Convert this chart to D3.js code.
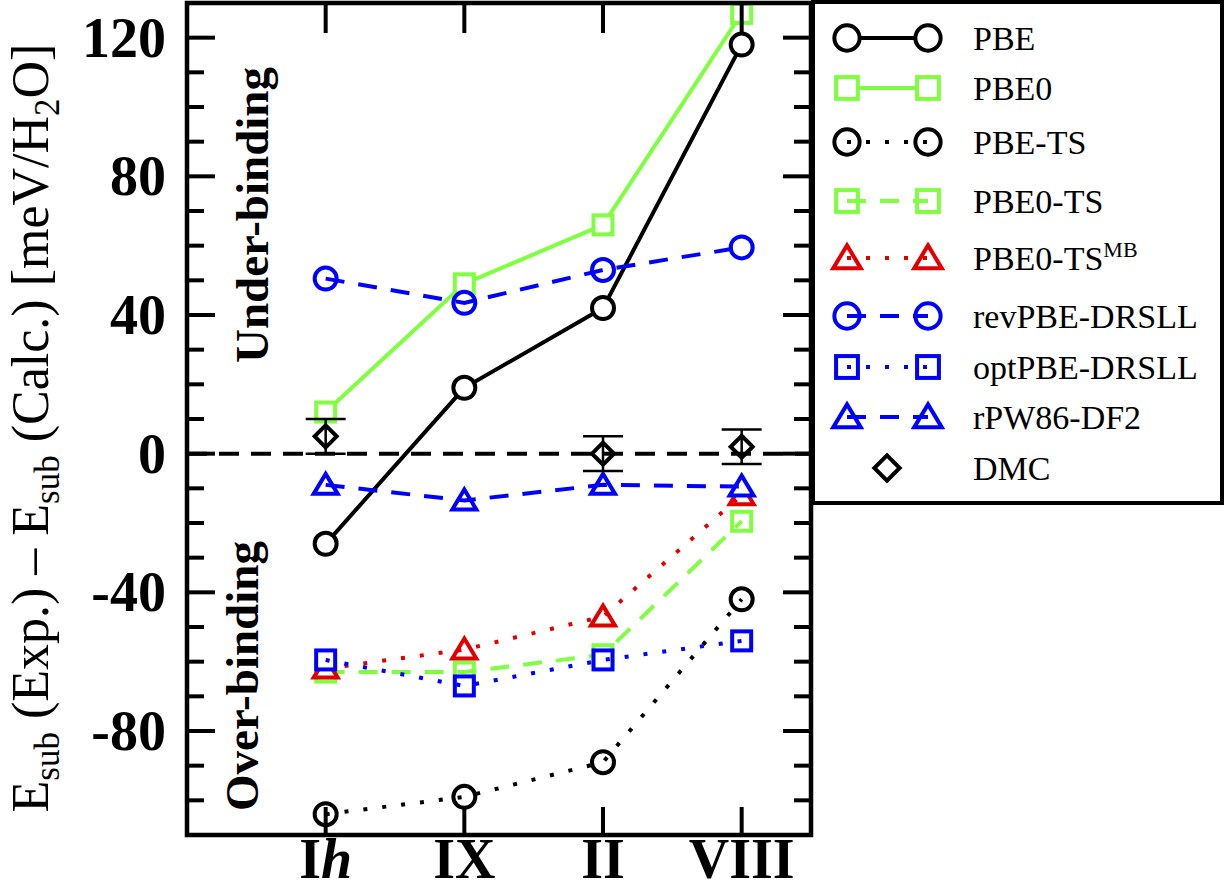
<!DOCTYPE html>
<meta charset="utf-8">
<style>
body { margin: 0; background: #fff; }
text { font-family: "Liberation Serif", "Times New Roman", serif; fill: #000; }
.tick-label { font-weight: bold; font-size: 56px; }
</style>
<body>
<svg id="chart" width="1225" height="890"></svg>
<script src="https://cdnjs.cloudflare.com/ajax/libs/d3/7.8.5/d3.min.js"></script>
<script>
// ice phases on x
var phases = ["Ih", "IX", "II", "VIII"];

// E_sub(exp) - E_sub(calc), meV/H2O
var pbe      = [-26, 19, 42, 118];
var pbe0     = [12, 49, 66, 127];
var pbeTS    = [-104, -99, -89, -42];
var pbe0TS   = [-63, -63, -58, -19.5];
var pbe0TSMB = [-62, -56.5, -47, -12];
var revPBE   = [50.5, 43.5, 53, 59.5];
var optPBE   = [-59.5, -67, -59.5, -54];
var rPW86    = [-9, -13.5, -9, -9.5];
var dmc      = [5, null, 0, 2];
var dmcErr   = [5, null, 5, 5];

var yMajor = [-80, -40, 0, 40, 80, 120];
var yMinor = d3.range(-110, 131, 10);

var green = "#80ff40", blue = "#0000ff", red = "#e00000", black = "#000";
var dotted = "4,15", dashed = "19,14";
var sw = 4;

var series = [
  {name: "PBE",          vals: pbe,      color: black, shape: "circle",   dash: null},
  {name: "PBE0",         vals: pbe0,     color: green, shape: "square",   dash: null},
  {name: "PBE-TS",       vals: pbeTS,    color: black, shape: "circle",   dash: dotted},
  {name: "PBE0-TS",      vals: pbe0TS,   color: green, shape: "square",   dash: dashed},
  {name: "PBE0-TS",      sup: "MB", vals: pbe0TSMB, color: red, shape: "triangle", dash: dotted},
  {name: "revPBE-DRSLL", vals: revPBE,   color: blue,  shape: "circle",   dash: dashed},
  {name: "optPBE-DRSLL", vals: optPBE,   color: blue,  shape: "square",   dash: dotted},
  {name: "rPW86-DF2",    vals: rPW86,    color: blue,  shape: "triangle", dash: dashed}
];

var svg = d3.select("#chart");
var pLeft = 187, pRight = 811, pTop = 3, pBottom = 835;

var x = d3.scaleLinear().domain([0, 4.5]).range([pLeft, pRight]);
var y = d3.scaleLinear().domain([-110, 130]).range([pBottom, pTop]);

var g = svg.append("g");

// zero reference line
g.append("line")
  .attr("x1", pLeft).attr("x2", pRight)
  .attr("y1", y(0)).attr("y2", y(0))
  .attr("stroke", black).attr("stroke-width", sw)
  .attr("stroke-dasharray", "20,12");

function drawMarker(sel, shape, cx, cy, color, k) {
  k = k || 1;
  if (shape === "circle") {
    sel.append("circle").attr("cx", cx).attr("cy", cy).attr("r", 11 * k)
      .attr("fill", "#fff").attr("stroke", color).attr("stroke-width", sw);
  } else if (shape === "square") {
    var h = 9.5 * k;
    sel.append("rect").attr("x", cx - h).attr("y", cy - h)
      .attr("width", 2 * h).attr("height", 2 * h)
      .attr("fill", "#fff").attr("stroke", color).attr("stroke-width", sw);
  } else if (shape === "triangle") {
    sel.append("path")
      .attr("d", "M" + cx + "," + (cy - 11 * k) + "L" + (cx + 12 * k) + "," + (cy + 9 * k) + "L" + (cx - 12 * k) + "," + (cy + 9 * k) + "Z")
      .attr("fill", "#fff").attr("stroke", color).attr("stroke-width", sw);
  } else if (shape === "diamond") {
    var d = 11 * k;
    sel.append("path")
      .attr("d", "M" + cx + "," + (cy - d) + "L" + (cx + d) + "," + cy + "L" + cx + "," + (cy + d) + "L" + (cx - d) + "," + cy + "Z")
      .attr("fill", "none").attr("stroke", color).attr("stroke-width", sw);
  }
}

var line = d3.line()
  .x(function(d, i) { return x(i + 1); })
  .y(function(d) { return y(d); });

series.forEach(function(s) {
  var sg = g.append("g");
  function drawLine() {
    sg.append("path").datum(s.vals)
      .attr("d", line)
      .attr("fill", "none")
      .attr("stroke", s.color)
      .attr("stroke-width", sw)
      .attr("stroke-dasharray", s.dash);
  }
  if (!s.dash) drawLine();
  s.vals.forEach(function(v, i) { drawMarker(sg, s.shape, x(i + 1), y(v), s.color); });
  if (s.dash) drawLine();
});

// DMC with error bars
dmc.forEach(function(v, i) {
  if (v === null) return;
  var cx = x(i + 1);
  var e = dmcErr[i];
  g.append("line").attr("x1", cx).attr("x2", cx).attr("y1", y(v + e)).attr("y2", y(v - e))
    .attr("stroke", black).attr("stroke-width", 2.5);
  [v + e, v - e].forEach(function(b) {
    g.append("line").attr("x1", cx - 20).attr("x2", cx + 20).attr("y1", y(b)).attr("y2", y(b))
      .attr("stroke", black).attr("stroke-width", 2.5);
  });
  drawMarker(g, "diamond", cx, y(v), black);
});

// frame + ticks
var ax = svg.append("g").attr("stroke", black);
ax.append("rect").attr("x", pLeft).attr("y", pTop).attr("width", pRight - pLeft).attr("height", pBottom - pTop)
  .attr("fill", "none").attr("stroke-width", 4.5);

yMinor.forEach(function(v) {
  var len = yMajor.indexOf(v) >= 0 ? 28 : 17;
  ax.append("line").attr("x1", pLeft).attr("x2", pLeft + len).attr("y1", y(v)).attr("y2", y(v)).attr("stroke-width", sw);
  ax.append("line").attr("x1", pRight).attr("x2", pRight - len).attr("y1", y(v)).attr("y2", y(v)).attr("stroke-width", sw);
});
phases.forEach(function(p, i) {
  ax.append("line").attr("x1", x(i + 1)).attr("x2", x(i + 1)).attr("y1", pBottom).attr("y2", pBottom - 28).attr("stroke-width", sw);
  ax.append("line").attr("x1", x(i + 1)).attr("x2", x(i + 1)).attr("y1", pTop).attr("y2", pTop + 30).attr("stroke-width", sw);
});

// tick labels
yMajor.forEach(function(v) {
  svg.append("text").attr("class", "tick-label")
    .attr("x", 166).attr("y", y(v) + 19)
    .attr("text-anchor", "end")
    .text(v);
});
phases.forEach(function(p, i) {
  var t = svg.append("text").attr("class", "tick-label")
    .attr("x", x(i + 1)).attr("y", 878)
    .attr("text-anchor", "middle");
  if (p === "Ih") {
    t.append("tspan").text("I");
    t.append("tspan").attr("font-style", "italic").text("h");
  } else {
    t.text(p);
  }
});

// axis title
var yt = svg.append("text")
  .attr("transform", "translate(48,428) rotate(-90)")
  .attr("text-anchor", "middle")
  .style("font-size", "52px");
yt.append("tspan").text("E");
yt.append("tspan").attr("dy", 11).style("font-size", "35px").text("sub");
yt.append("tspan").attr("dy", -11).text(" (Exp.) \u2013 E");
yt.append("tspan").attr("dy", 11).style("font-size", "35px").text("sub");
yt.append("tspan").attr("dy", -11).text(" (Calc.) [meV/H");
yt.append("tspan").attr("dy", 11).style("font-size", "35px").text("2");
yt.append("tspan").attr("dy", -11).text("O]");

// region labels
svg.append("text")
  .attr("transform", "translate(268,215) rotate(-90)")
  .attr("text-anchor", "middle")
  .style("font-size", "47px").style("font-weight", "bold")
  .text("Under-binding");
svg.append("text")
  .attr("transform", "translate(258,676) rotate(-90)")
  .attr("text-anchor", "middle")
  .style("font-size", "47px").style("font-weight", "bold")
  .text("Over-binding");

// legend
var lg = svg.append("g");
lg.append("rect").attr("x", 813).attr("y", 2).attr("width", 409).attr("height", 501)
  .attr("fill", "#fff").attr("stroke", black).attr("stroke-width", sw);
var rowY = [38, 88, 142, 201, 258, 316, 367, 417, 468];
var lx1 = 847, lx2 = 928, tx = 973;
series.forEach(function(s, i) {
  var ry = rowY[i];
  var rg = lg.append("g");
  function sample() {
    rg.append("line").attr("x1", lx1).attr("x2", lx2).attr("y1", ry).attr("y2", ry)
      .attr("stroke", s.color).attr("stroke-width", sw)
      .attr("stroke-dasharray", s.dash);
  }
  if (!s.dash) sample();
  drawMarker(rg, s.shape, lx1, ry, s.color, 1.15);
  drawMarker(rg, s.shape, lx2, ry, s.color, 1.15);
  if (s.dash) sample();
  var t = lg.append("text").attr("x", tx).attr("y", ry + 12).style("font-size", "34px");
  t.append("tspan").text(s.name);
  if (s.sup) t.append("tspan").attr("dy", -13).style("font-size", "22px").text(s.sup);
});
drawMarker(lg, "diamond", 887, rowY[8], black, 1.15);
lg.append("text").attr("x", tx).attr("y", rowY[8] + 12).style("font-size", "34px").text("DMC");
</script>
</body>
